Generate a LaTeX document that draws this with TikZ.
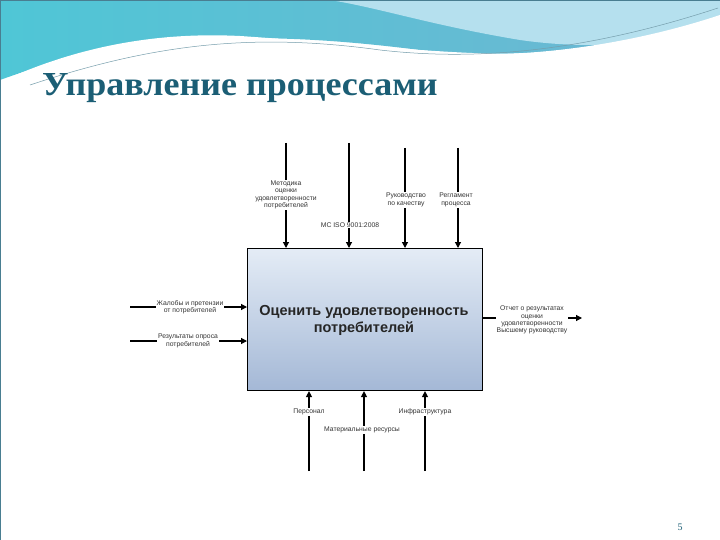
\documentclass[tikz,border=0pt]{standalone}
\usepackage{fontspec}
\setmainfont{Liberation Sans}
\newfontfamily\titlefont{Liberation Serif}
\usetikzlibrary{arrows.meta}
\definecolor{teal1}{HTML}{1B5E75}
\definecolor{wave1}{HTML}{6FB6D2}
\definecolor{wave2}{HTML}{B5E0EE}
\definecolor{wave3}{HTML}{4FC6D6}
\definecolor{boxtop}{HTML}{E4ECF6}
\definecolor{boxbot}{HTML}{A4B8D6}
\tikzset{
  arr/.style={line width=1.2pt,-{Triangle[length=6pt,width=6pt]}},
  lbl/.style={font=\fontsize{6.8}{7.3}\selectfont,align=center,fill=white,inner sep=1pt,text=black!80},
}
\begin{document}
\begin{tikzpicture}[x=1pt,y=-1pt]
\useasboundingbox (0,0) rectangle (720,540);
\fill[white] (0,0) rectangle (720,540);
% header waves
\shade[left color=wave3,right color=wave1] (0,0) -- (720,0) -- (720,20) .. controls (620,50) and (520,60) .. (420,50) .. controls (300,35) and (150,25) .. (0,80) -- cycle;
\fill[wave2] (330,0) -- (720,0) -- (720,25) .. controls (660,45) and (590,50) .. (520,40) .. controls (430,25) and (380,8) .. (330,0) -- cycle;
\fill[white] (0,82) .. controls (80,45) and (160,32) .. (240,36) .. controls (330,42) and (420,52) .. (500,54) .. controls (580,52) and (660,35) .. (720,15) -- (720,540) -- (0,540) -- cycle;
\draw[teal1!60,line width=0.5pt] (30,85) .. controls (150,45) and (250,32) .. (380,50) .. controls (450,58) and (560,60) .. (718,8);
\draw[teal1!80,line width=0.6pt] (0,0) rectangle (720,540);
\node[anchor=west,font=\titlefont\bfseries\fontsize{30}{32}\selectfont,text=teal1,xscale=1.2,yscale=1.12] (title) at (38,88) {Управление процессами};
% box
\node[draw=black,line width=1.1pt,top color=boxtop,bottom color=boxbot,minimum width=235pt,minimum height=142pt,anchor=north west,inner sep=0] (box) at (247,248) {};
\node[font=\bfseries\fontsize{14.5}{17}\selectfont,align=center,text=black!85] (t) at (364,320) {Оценить удовлетворенность\\потребителей};
% top controls
\coordinate (c1) at (286,143); \coordinate (c2) at (349,143); \coordinate (c3) at (405,148); \coordinate (c4) at (458,148);
\draw[arr] (c1) -- (c1 |- box.north);
\draw[arr] (c2) -- (c2 |- box.north);
\draw[arr] (c3) -- (c3 |- box.north);
\draw[arr] (c4) -- (c4 |- box.north);
\node[lbl] (l1) at (286,195) {Методика\\оценки\\удовлетворенности\\потребителей};
\node[lbl] (l2) at (350,225) {МС ISO 9001:2008};
\node[lbl] (l3) at (406,200) {Руководство\\по качеству};
\node[lbl] (l4) at (456,200) {Регламент\\процесса};
% inputs
\coordinate (i1) at (130,307); \coordinate (i2) at (130,341);
\draw[arr] (i1) -- (i1 -| box.west);
\draw[arr] (i2) -- (i2 -| box.west);
\node[lbl] (li1) at (190,307) {Жалобы и претензии\\от потребителей};
\node[lbl] (li2) at (188,341) {Результаты опроса\\потребителей};
% output
\coordinate (o1) at (582,318);
\draw[arr] (box.east |- o1) -- (o1);
\node[lbl] (lo) at (532,320) {Отчет о результатах\\оценки\\удовлетворенности\\Высшему руководству};
% mechanisms
\coordinate (m1) at (309,471); \coordinate (m2) at (364,471); \coordinate (m3) at (425,471);
\draw[arr] (m1) -- (m1 |- box.south);
\draw[arr] (m2) -- (m2 |- box.south);
\draw[arr] (m3) -- (m3 |- box.south);
\node[lbl] (lm1) at (309,412) {Персонал};
\node[lbl] (lm3) at (425,412) {Инфраструктура};
\node[lbl] (lm2) at (362,430) {Материальные ресурсы};
\node[font=\titlefont\fontsize{10}{10}\selectfont,text=teal1] (pg) at (680,527) {5};
\end{tikzpicture}
\end{document}
